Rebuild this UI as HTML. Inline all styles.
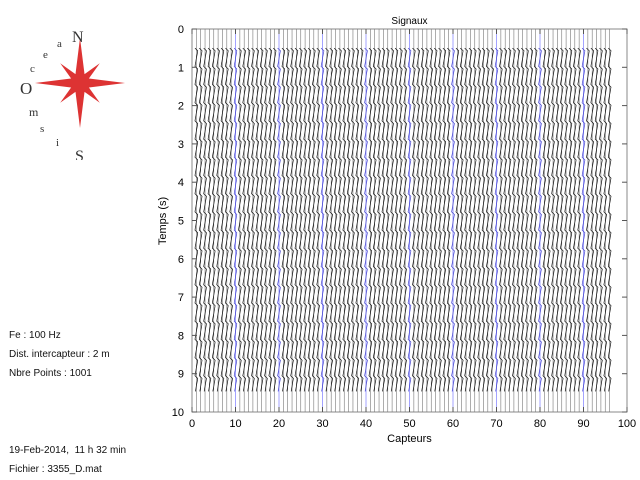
<!DOCTYPE html>
<html><head><meta charset="utf-8"><style>
body{margin:0;background:#fff;width:640px;height:480px;overflow:hidden;font-family:"Liberation Sans",sans-serif}
.info{position:absolute;left:9px;font-size:10px;color:#111}
</style></head><body>
<div style="position:absolute;left:0;top:20px;width:160px;height:140px">
<svg width="160" height="140">
<g transform="translate(80,63)">
<polygon points="0,-45 5,-5 0,0 -5,-5" fill="#d33"/><polygon points="0,45 5,5 0,0 -5,5" fill="#d33"/>
<polygon points="-45,0 -5,-5 0,0 -5,5" fill="#d33"/><polygon points="45,0 5,-5 0,0 5,5" fill="#d33"/>
<g transform="rotate(45)"><polygon points="0,-28 4,-4 0,0 -4,-4" fill="#d33"/><polygon points="0,28 4,4 0,0 -4,4" fill="#d33"/><polygon points="-28,0 -4,-4 0,0 -4,4" fill="#d33"/><polygon points="28,0 4,-4 0,0 4,4" fill="#d33"/></g>
</g>
<text x="72" y="22" font-family="Liberation Serif" font-size="16" fill="#333">N</text>
<text x="75" y="141" font-family="Liberation Serif" font-size="16" fill="#333">S</text>
<text x="20" y="74" font-family="Liberation Serif" font-size="17" fill="#333">O</text>
<text x="30" y="52" font-family="Liberation Serif" font-size="11" fill="#333">c</text>
<text x="43" y="38" font-family="Liberation Serif" font-size="11" fill="#333">e</text>
<text x="57" y="27" font-family="Liberation Serif" font-size="11" fill="#333">a</text>
<text x="29" y="96" font-family="Liberation Serif" font-size="12" fill="#333">m</text>
<text x="40" y="112" font-family="Liberation Serif" font-size="11" fill="#333">s</text>
<text x="56" y="126" font-family="Liberation Serif" font-size="11" fill="#333">i</text>
</svg></div>
<div class="info" style="top:330px">Fe : 100 Hz</div>
<div class="info" style="top:349px">Dist. intercapteur : 2 m</div>
<div class="info" style="top:368px">Nbre Points : 1001</div>
<div class="info" style="top:445px">19-Feb-2014,&nbsp; 11 h 32 min</div>
<div class="info" style="top:464px">Fichier : 3355_D.mat</div>
<svg id="c" width="640" height="480" style="position:absolute;left:0;top:0"></svg>
<script>
const xTicks=[0,10,20,30,40,50,60,70,80,90,100];
const yTicks=[0,1,2,3,4,5,6,7,8,9,10];
const sensors=[];for(let i=1;i<=96;i++)sensors.push(i);
const blueSensors=[10,20,30,40,50,60,70,80,90];
const signalStart=0.5, signalEnd=9.5;
const L=192,R=627,T=29,B=412;
const sx=v=>L+(R-L)*v/100, sy=v=>T+(B-T)*v/10;
const svg=document.getElementById('c');const NS='http://www.w3.org/2000/svg';
function mk(t,a,p){const e=document.createElementNS(NS,t);for(const k in a)e.setAttribute(k,a[k]);(p||svg).appendChild(e);return e;}
const frame=mk('rect',{x:L,y:T,width:R-L,height:B-T,fill:'none',stroke:'#888'});


sensors.forEach(s=>{
  const x=sx(s);const blue=blueSensors.includes(s);
  const ln=mk('line',{x1:x,y1:T,x2:x,y2:B,stroke:blue?'#66f':'#777','stroke-width':0.6});
  
  
  let d='';let y=sy(signalStart);let k=0;const y2=sy(signalEnd);
  while(y<=y2){const a=(((s*7+k*13)%7)-3)*0.45;d+=(k?'L':'M')+(x+a).toFixed(1)+','+y.toFixed(1);y+=2.6;k++;}
  const p=mk('path',{d:d,fill:'none',stroke:blue?'#44c':'#111','stroke-width':0.7});
  
  
});
xTicks.forEach(v=>{const x=sx(v);
  mk('line',{x1:x,y1:B,x2:x,y2:B-5,stroke:'#555'});mk('line',{x1:x,y1:T,x2:x,y2:T+5,stroke:'#555'});
  const t=mk('text',{x:x,y:B+15,'text-anchor':'middle','font-size':11});t.textContent=v;
  
  });
yTicks.forEach(v=>{const y=sy(v);
  mk('line',{x1:L,y1:y,x2:L+5,y2:y,stroke:'#555'});mk('line',{x1:R,y1:y,x2:R-5,y2:y,stroke:'#555'});
  const t=mk('text',{x:L-8,y:y+4,'text-anchor':'end','font-size':11});t.textContent=v;
  
  });
const ti=mk('text',{x:(L+R)/2,y:24,'text-anchor':'middle','font-size':10});ti.textContent='Signaux';


const xl=mk('text',{x:(L+R)/2,y:442,'text-anchor':'middle','font-size':11});xl.textContent='Capteurs';


const yl=mk('text',{x:0,y:0,'text-anchor':'middle','font-size':11,transform:'translate(166,221) rotate(-90)'});yl.textContent='Temps (s)';


</script>
</body></html>
